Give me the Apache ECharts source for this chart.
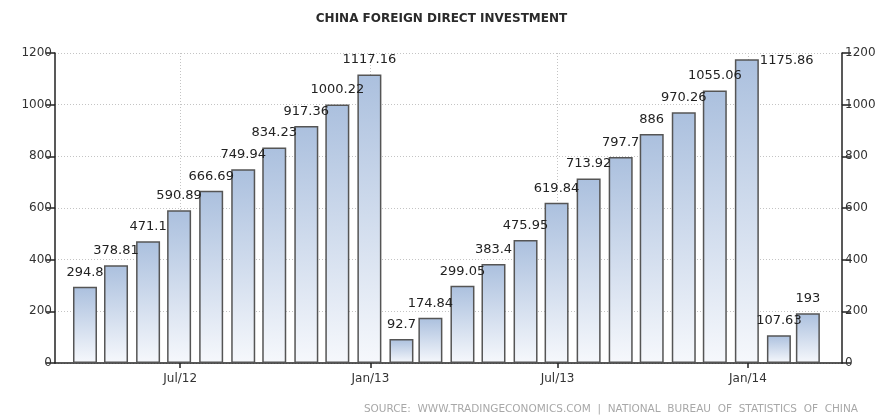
<!DOCTYPE html>
<html>
<head>
<meta charset="utf-8">
<style>
  html, body { margin: 0; padding: 0; background: #ffffff; }
  #chart { width: 883px; height: 420px; }
</style>
<script src="https://cdn.jsdelivr.net/npm/echarts@6/dist/echarts.min.js"></script>
</head>
<body>
<div id="chart"></div>
<script>
// Cumulative year-to-date FDI into China (100 million USD), month-end readings
const months = [
  '2012-03-31', '2012-04-30', '2012-05-31', '2012-06-30', '2012-07-31', '2012-08-31',
  '2012-09-30', '2012-10-31', '2012-11-30', '2012-12-31',
  '2013-01-31', '2013-02-28', '2013-03-31', '2013-04-30', '2013-05-31', '2013-06-30',
  '2013-07-31', '2013-08-31', '2013-09-30', '2013-10-31', '2013-11-30', '2013-12-31',
  '2014-01-31', '2014-02-28'
];
const fdiValues = [
  294.8, 378.81, 471.1, 590.89, 666.69, 749.94, 834.23, 917.36, 1000.22, 1117.16,
  92.7, 174.84, 299.05, 383.4, 475.95, 619.84, 713.92, 797.7, 886, 970.26, 1055.06, 1175.86,
  107.63, 193
];
// half-year ticks on the date axis
const xTickDates = ['2012-07-01', '2013-01-01', '2013-07-01', '2014-01-01'];
const yTicks = [0, 200, 400, 600, 800, 1000, 1200];

const titleText = 'CHINA FOREIGN DIRECT INVESTMENT';
const sourceText = 'SOURCE:  WWW.TRADINGECONOMICS.COM  |  NATIONAL  BUREAU  OF  STATISTICS  OF  CHINA';

const FONT = 'DejaVu Sans';
const ts = s => new Date(s + 'T00:00:00').getTime();

// visible date range of the plot
const rangeStart = ts('2012-03-02');
const rangeEnd = ts('2014-04-02');

// plot geometry
const GRID = { left: 55, right: 41, top: 53, bottom: 57 };
const plotWidth = 883 - GRID.left - GRID.right;
const BAR_W = 24;

// ECharts widens a bar axis by one bar width; shrink the requested extent so the
// widened result lands on the intended range
const span = rangeEnd - rangeStart;
const innerSpan = span * (1 - BAR_W / plotWidth);
const pad = (span - innerSpan) / 2;
const axisMin = rangeStart + pad;
const axisMax = rangeEnd - pad;

// the last tall bar's label sits to the right of its top so it clears its neighbour
const sideLabelIndex = new Set([21]);

const barData = months.map((m, i) => {
  const item = { value: [ts(m), fdiValues[i]] };
  if (sideLabelIndex.has(i)) {
    item.label = { position: ['100%', 0], align: 'left', verticalAlign: 'middle', distance: 0, offset: [1, 1] };
  }
  return item;
});

const dotted = { show: true, lineStyle: { color: '#c4c4c4', type: [1, 2], width: 1 } };

const yAxisCommon = {
  type: 'value',
  min: yTicks[0],
  max: yTicks[yTicks.length - 1],
  interval: 200,
  axisLine: { show: true, lineStyle: { color: '#222', width: 1.5 } },
  axisTick: { show: true, length: 9, lineStyle: { color: '#222', width: 1.5 } },
  axisLabel: { color: '#333', fontFamily: FONT, fontSize: 12, margin: 3, formatter: v => String(v) },
  splitLine: { show: false }
};

const chart = echarts.init(document.getElementById('chart'), null, { renderer: 'canvas' });
chart.setOption({
  backgroundColor: '#ffffff',
  animation: false,
  title: {
    text: titleText,
    left: 'center',
    top: 8,
    textStyle: { color: '#2a2a2a', fontFamily: FONT, fontSize: 12, fontWeight: 'bold' }
  },
  grid: Object.assign({ containLabel: false }, GRID),
  xAxis: {
    type: 'time',
    min: axisMin,
    max: axisMax,
    axisLine: { show: true, onZero: false, lineStyle: { color: '#222', width: 1.5 } },
    axisTick: {
      show: true, length: 5, lineStyle: { color: '#222', width: 1.5 },
      customValues: xTickDates.map(ts)
    },
    axisLabel: {
      color: '#333', fontFamily: FONT, fontSize: 12, margin: 10,
      customValues: xTickDates.map(ts),
      formatter: '{MMM}/{yy}'
    },
    splitLine: dotted
  },
  yAxis: [
    Object.assign({}, yAxisCommon, { position: 'left', splitLine: dotted }),
    Object.assign({}, yAxisCommon, { position: 'right' })
  ],
  series: [{
    type: 'bar',
    yAxisIndex: 0,
    barWidth: BAR_W,
    data: barData,
    itemStyle: {
      borderColor: '#555',
      borderWidth: 1.5,
      color: new echarts.graphic.LinearGradient(0, 0, 0, 1, [
        { offset: 0, color: '#abc0de' },
        { offset: 1, color: '#f6f8fc' }
      ])
    },
    label: {
      show: true,
      position: 'top',
      distance: 8,
      color: '#222',
      fontFamily: FONT,
      fontSize: 13,
      formatter: p => String(p.value[1])
    }
  }],
  graphic: [{
    type: 'text',
    right: 25,
    top: 404,
    style: { text: sourceText, fill: '#a8a8a8', font: '10.5px "' + FONT + '"' }
  }]
});
</script>
</body>
</html>
